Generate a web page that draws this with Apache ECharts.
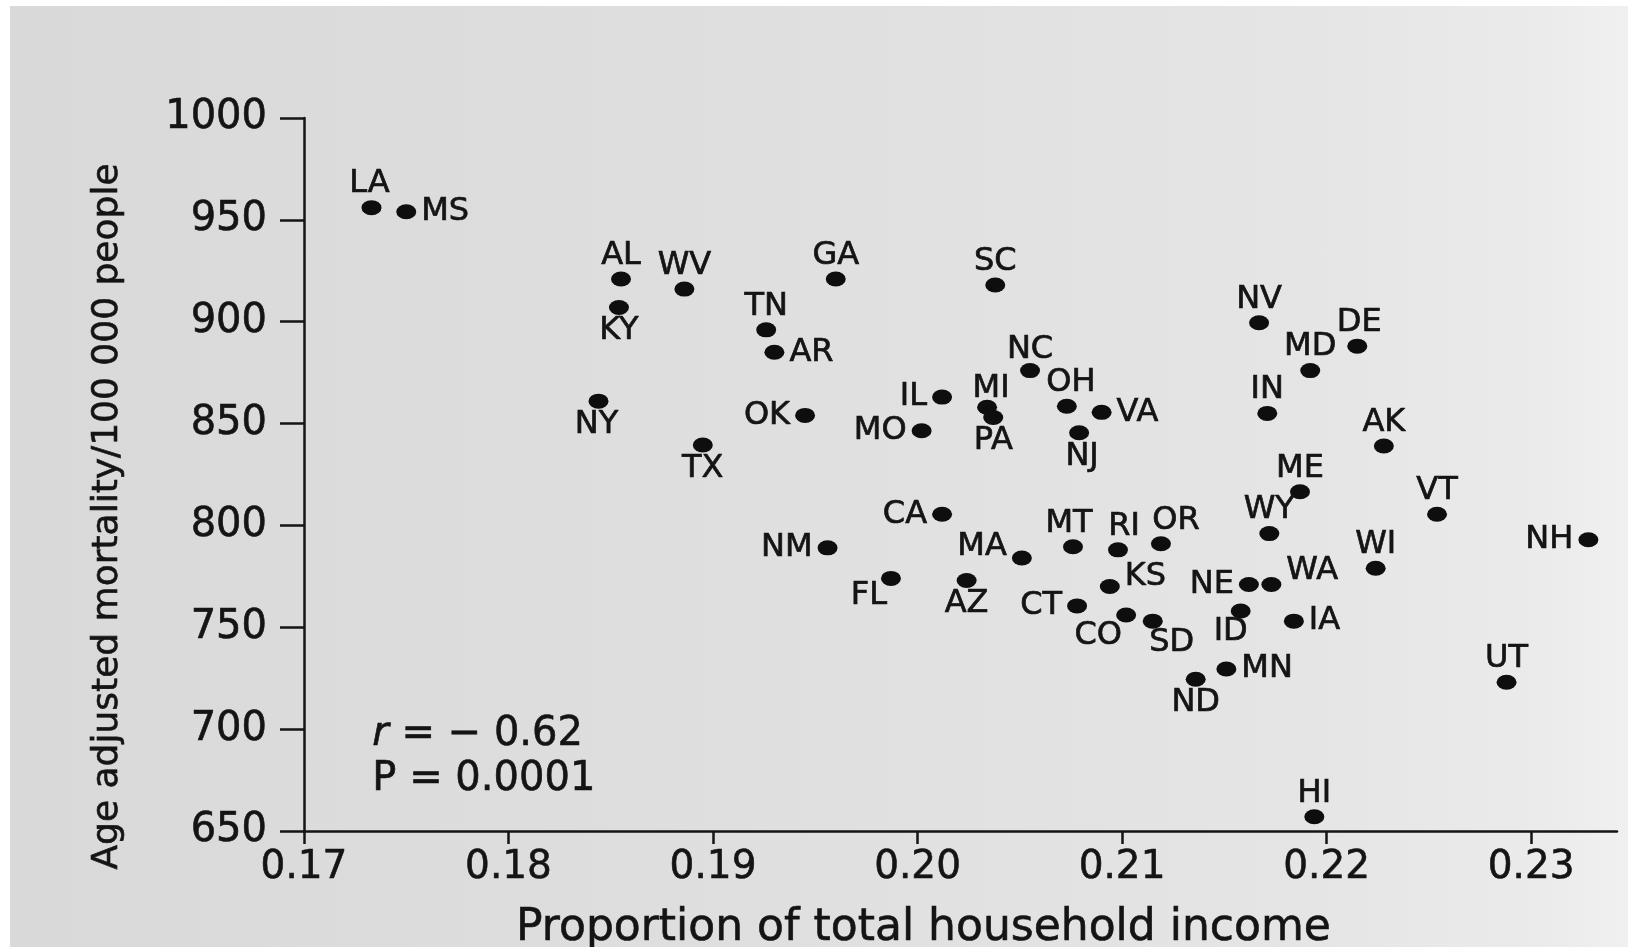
<!DOCTYPE html>
<html>
<head>
<meta charset="utf-8">
<title>Income inequality and mortality by state</title>
<script src="https://cdn.jsdelivr.net/npm/echarts@6/dist/echarts.min.js"></script>
<style>
  html, body { margin: 0; padding: 0; background: #ffffff; }
  #paper {
    position: absolute; left: 10px; top: 6px; right: 0; bottom: 0;
    background: linear-gradient(to right, #d9d9d9 0%, #dedede 40%, #e5e5e5 80%, #ebebeb 95%, #f0f0f0 100%);
  }
  #chart { position: absolute; left: 0; top: 0; width: 1628px; height: 947px; }
</style>
</head>
<body>
<div id="paper"></div>
<div id="chart"></div>
<script>
// State abbreviations
const states = [
  'LA','MS','AL','WV','KY','GA','SC','TN','AR','NY',
  'OK','TX','IL','MO','MI','PA','NC','OH','VA','NJ',
  'NV','DE','MD','IN','AK','ME','VT','WY','WI','NH',
  'CA','NM','MA','MT','RI','OR','FL','AZ','KS','CT',
  'CO','SD','NE','WA','ID','IA','MN','ND','UT','HI'
];
// Share of total household income (x)
const incomeShare = [
  0.1733, 0.1750, 0.1855, 0.1886, 0.1854, 0.1960, 0.2038, 0.1926, 0.1930, 0.1844,
  0.1945, 0.1895, 0.2012, 0.2002, 0.2034, 0.2037, 0.2055, 0.2073, 0.2090, 0.2079,
  0.2167, 0.2215, 0.2192, 0.2171, 0.2228, 0.2187, 0.2254, 0.2172, 0.2224, 0.2328,
  0.2012, 0.1956, 0.2051, 0.2076, 0.2098, 0.2119, 0.1987, 0.2024, 0.2094, 0.2078,
  0.2102, 0.2115, 0.2162, 0.2173, 0.2158, 0.2184, 0.2151, 0.2136, 0.2288, 0.2194
];
// Age adjusted mortality per 100 000 people (y)
const mortality = [
  956, 954, 921, 916, 907, 921, 918, 896, 885, 861,
  854, 839.5, 863, 846.5, 858, 853, 876, 858.5, 855.5, 845.5,
  899.5, 888, 876, 855, 839, 816.5, 805.5, 796, 779, 793,
  805.5, 789, 784, 789.5, 788, 791, 774, 773, 770, 760.5,
  756, 753, 771, 771, 758, 753, 729.5, 724.5, 723, 657
];
const xTicks = [0.17, 0.18, 0.19, 0.20, 0.21, 0.22, 0.23];
const yTicks = [650, 700, 750, 800, 850, 900, 950, 1000];

// Where each state's abbreviation sits relative to its dot: [side, dx, dy]
const labelPlacement = {
  LA: ['top', -2, 0], MS: ['right', 0, 0], AL: ['top', 0, 0], WV: ['top', 0, 0], KY: ['bottom', 0, 0],
  GA: ['top', 0, 0], SC: ['top', 0, 0], TN: ['top', 0, 0], AR: ['right', 0, 0], NY: ['bottom', -2, 0],
  OK: ['left', 0, 0], TX: ['bottom', 0, 0], IL: ['left', 0, 0], MO: ['left', 0, 0], MI: ['top', 4, 5],
  PA: ['bottom', 0, 0], NC: ['top', 0, 3], OH: ['top', 4, 0], VA: ['right', 0, 0], NJ: ['bottom', 3, 0],
  NV: ['top', 0, 0], DE: ['top', 2, 0], MD: ['top', 0, 0], IN: ['top', 0, 0], AK: ['top', 0, 0],
  ME: ['top', 0, 0], VT: ['top', 0, 0], WY: ['top', 0, 0], WI: ['top', 0, 0], NH: ['left', 0, 0],
  CA: ['left', 0, 0], NM: ['left', 0, 0], MA: ['left', 0, -11], MT: ['top', -4, 0], RI: ['top', 6, 0],
  OR: ['top', 15, 0], FL: ['bottom', -22, -6], AZ: ['bottom', 0, 0], KS: ['right', 0, -10], CT: ['left', 0, 0],
  CO: ['bottom', -28, -3], SD: ['bottom', 19, -2], NE: ['left', 0, 0], WA: ['right', 0, -14], ID: ['bottom', -10, -3],
  IA: ['right', 0, 0], MN: ['right', 0, 0], ND: ['bottom', 0, 0], UT: ['top', 0, 0], HI: ['top', 0, 0]
};

const FONT = '"DejaVu Sans", sans-serif';
const INK = '#141414';

const points = states.map((s, i) => {
  const p = labelPlacement[s] || ['top', 0, 0];
  const vertical = p[0] === 'top' || p[0] === 'bottom';
  return {
    name: s,
    value: [incomeShare[i], mortality[i]],
    label: { position: p[0], distance: vertical ? 0 : 5 }
  };
});

const chart = echarts.init(document.getElementById('chart'), null, { renderer: 'canvas' });

chart.setOption({
  backgroundColor: 'transparent',
  animation: false,
  grid: {
    left: 304, top: 118, width: 1313, height: 713,
    containLabel: false, outerBoundsMode: 'none'
  },
  xAxis: {
    type: 'value',
    min: 0.17,
    max: 0.2342,
    name: 'Proportion of total household income',
    nameLocation: 'middle',
    nameGap: 76,
    nameTextStyle: {
      fontFamily: FONT, fontSize: 44, color: INK, padding: [0, 74, 0, 0],
      textBorderColor: INK, textBorderWidth: 0.6
    },
    axisLine: { show: true, onZero: false, lineStyle: { color: INK, width: 2.5 } },
    axisTick: { show: true, length: 13, customValues: xTicks, lineStyle: { color: INK, width: 2.5 } },
    axisLabel: {
      customValues: xTicks,
      margin: 17,
      fontFamily: FONT, fontSize: 39, color: INK,
      textBorderColor: INK, textBorderWidth: 0.6,
      formatter: v => v.toFixed(2)
    },
    splitLine: { show: false }
  },
  yAxis: {
    type: 'value',
    min: 650,
    max: 1000,
    interval: 50,
    name: 'Age adjusted mortality/100 000 people',
    nameLocation: 'middle',
    nameGap: 178,
    nameTextStyle: {
      fontFamily: FONT, fontSize: 36, color: INK, padding: [0, 84, 0, 0],
      textBorderColor: INK, textBorderWidth: 0.6
    },
    axisLine: { show: true, onZero: false, lineStyle: { color: INK, width: 2.5 } },
    axisTick: { show: true, length: 24, lineStyle: { color: INK, width: 2.5 } },
    axisLabel: {
      customValues: yTicks,
      margin: 37,
      fontFamily: FONT, fontSize: 40, color: INK,
      textBorderColor: INK, textBorderWidth: 0.6,
      formatter: v => String(v)
    },
    splitLine: { show: false }
  },
  graphic: [
    {
      type: 'text',
      left: 372, top: 712,
      style: {
        text: '{i|r} = − 0.62\nP = 0.0001',
        fontFamily: FONT, fontSize: 40, fill: INK, lineHeight: 45,
        stroke: INK, lineWidth: 0.6,
        rich: { i: { fontStyle: 'italic', fontFamily: FONT, fontSize: 40, fill: INK, stroke: INK, lineWidth: 0.6 } }
      }
    }
  ],
  series: [{
    type: 'scatter',
    symbol: 'circle',
    symbolSize: [20, 15],
    itemStyle: { color: '#0e0e0e', opacity: 1 },
    label: {
      show: true,
      formatter: '{b}',
      fontFamily: FONT,
      fontSize: 32,
      color: INK,
      opacity: 1,
      textBorderColor: INK,
      textBorderWidth: 0.7
    },
    labelLayout: function (params) {
      const p = labelPlacement[states[params.dataIndex]] || ['top', 0, 0];
      return { dx: p[1], dy: p[2], hideOverlap: false };
    },
    data: points
  }]
});
</script>
</body>
</html>
